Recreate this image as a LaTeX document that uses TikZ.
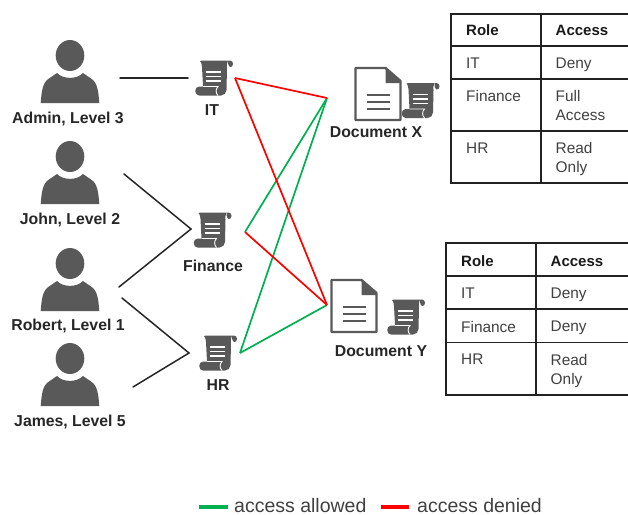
\documentclass[tikz,border=0pt]{standalone}
\usepackage{fontspec}
\setmainfont{Liberation Sans}
\definecolor{icon}{HTML}{595959}
\definecolor{allow}{HTML}{00B050}
\definecolor{deny}{HTML}{FF0000}
\definecolor{tline}{HTML}{222222}
\definecolor{ttext}{HTML}{404040}
\tikzset{
  person/.pic={
    \fill[icon] (0,0) ellipse (14.3 and 15.5);
    \fill[icon] (-29.3,47.5) .. controls (-28.5,38) and (-28,27) .. (-21,23)
      -- (-13,17.5) .. controls (-7,24) and (7,24) .. (13,17.5)
      -- (21,23) .. controls (28,27) and (28.5,38) .. (29.3,47.5) -- cycle;
  },
  scrollicon/.pic={
    \fill[icon] (-12,-17.5) -- (14,-17.5) .. controls (12.5,-15) and (13,-13) .. (13,-10)
      -- (12.5,12) .. controls (12.5,15) and (10,17.5) .. (7,17.5) -- (-15,17.5)
      .. controls (-20,17.5) and (-20,8.5) .. (-15,8.5) -- (-11,8.5)
      -- (-12,-11) .. controls (-12,-14) and (-13,-16) .. (-14,-17) -- cycle;
    \fill[icon] (14,-17.5) -- (16,-17.5) .. controls (18,-17.5) and (19,-16) .. (19,-14)
      .. controls (19,-12) and (17.5,-10.5) .. (16,-11) .. controls (14.5,-11) and (14,-14) .. (14,-17.5) -- cycle;
    \draw[white,line width=.9] (-11,8.5) -- (4,8.5) .. controls (1.5,11) and (1.5,15) .. (4,17.5);
    \draw[white,line width=1.7] (-8,-6) -- (7,-6) (-8,-1.5) -- (7,-1.5) (-8,3) -- (7,3);
  },
  docicon/.pic={
    \draw[icon,line width=2.4,line join=round] (0,0) -- (30,0) -- (45,13) -- (45,52) -- (0,52) -- cycle;
    \fill[icon] (30,0) -- (45,13) -- (45,15) -- (30,15) -- cycle;
    \draw[icon,line width=2] (11,27) -- (34,27) (11,34) -- (34,34) (11,41) -- (34,41);
  },
  conn/.style={line width=1.5,draw=black!85,line cap=round},
  okline/.style={line width=1.7,draw=allow},
  noline/.style={line width=1.7,draw=deny},
  lbl/.style={font=\fontsize{15.8}{18}\selectfont\bfseries,text=black!85,inner sep=0pt,anchor=base},
  th/.style={font=\fontsize{15}{17}\selectfont\bfseries,text=black!90,anchor=base west,inner sep=0pt},
  td/.style={font=\fontsize{15.4}{19}\selectfont,text=ttext,anchor=north west,inner sep=0pt,align=left},
  rule/.style={line width=1.6,draw=tline},
  leg/.style={font=\fontsize{19.5}{21}\selectfont,text=black!75,anchor=base west,inner sep=0pt},
  legline/.style={line width=3.5},
}
\begin{document}
\begin{tikzpicture}[x=1pt,y=-1pt]
\useasboundingbox (0,0) rectangle (628,514);
\clip (0,0) rectangle (628,514);
% people
\pic at (70,55.5) {person};
\pic at (70,156.5) {person};
\pic at (70,263.5) {person};
\pic at (70,358.5) {person};
\node[lbl] (admin) at (68,123.5) {Admin, Level 3};
\node[lbl] (john) at (70,224) {John, Level 2};
\node[lbl] (robert) at (68,330) {Robert, Level 1};
\node[lbl] (james) at (70,426.5) {James, Level 5};
% scrolls
\pic at (214,78) {scrollicon};
\pic at (212.5,230) {scrollicon};
\pic at (218,353) {scrollicon};
\pic at (420.5,100.5) {scrollicon};
\pic at (406,317) {scrollicon};
\node[lbl] (it) at (212,115) {IT};
\node[lbl] (finance) at (213,271.5) {Finance};
\node[lbl] (hr) at (218,390.5) {HR};
% documents
\pic at (355.5,68) {docicon};
\pic at (331.5,280) {docicon};
\node[lbl] (docx) at (376,137.5) {Document X};
\node[lbl] (docy) at (381,356.5) {Document Y};
% connector end points
\coordinate (pa) at (120,78);
\coordinate (sit) at (188,78);
\coordinate (pj) at (124,174);
\coordinate (sfin) at (191,229);
\coordinate (pr1) at (119,287);
\coordinate (pr2) at (122,298);
\coordinate (shr) at (189,353);
\coordinate (pja) at (133,387);
\coordinate (oit) at (235,78);
\coordinate (ofin) at (245,232);
\coordinate (ohr) at (240,353);
\coordinate (dx) at (327,98);
\coordinate (dy) at (327,305);
\draw[conn] (pa) -- (sit);
\draw[conn] (pj) -- (sfin) -- (pr1);
\draw[conn] (pr2) -- (shr) -- (pja);
\draw[okline] (ofin) -- (dx);
\draw[okline] (ohr) -- (dx);
\draw[okline] (ohr) -- (dy);
\draw[noline] (oit) -- (dx);
\draw[noline] (oit) -- (dy);
\draw[noline] (ofin) -- (dy);
% table X
\draw[rule] (628,14) -- (451,14) -- (451,183) -- (628,183);
\draw[rule] (541,14) -- (541,183);
\draw[rule] (451,46) -- (628,46) (451,79) -- (628,79) (451,131) -- (628,131);
\node[th] (xh1) at (466,35.5) {Role};
\node[th] (xh2) at (555.5,35.5) {Access};
\node[td] (x1a) at (466,57.5) {IT};
\node[td] (x1b) at (555.5,57.5) {Deny};
\node[td] (x2a) at (466,90.5) {Finance};
\node[td] (x2b) at (555.5,90.5) {Full\\Access};
\node[td] (x3a) at (466,142.5) {HR};
\node[td] (x3b) at (555.5,142.5) {Read\\Only};
% table Y
\draw[rule] (628,243) -- (446,243) -- (446,395) -- (628,395);
\draw[rule] (536,243) -- (536,395);
\draw[rule] (446,276) -- (628,276) (446,309) -- (628,309) (446,342.5) -- (628,342.5);
\node[th] (yh1) at (461,266) {Role};
\node[th] (yh2) at (550.5,266) {Access};
\node[td] (y1a) at (461,287.5) {IT};
\node[td] (y1b) at (550.5,287.5) {Deny};
\node[td] (y2a) at (461,321) {Finance};
\node[td] (y2b) at (550.5,321) {Deny};
\node[td] (y3a) at (461,354) {HR};
\node[td] (y3b) at (550.5,354) {Read\\Only};
% legend
\coordinate (g1) at (199,507);
\coordinate (g2) at (228,507);
\coordinate (r1) at (381,507);
\coordinate (r2) at (409,507);
\draw[legline,allow] (g1) -- (g2);
\draw[legline,deny] (r1) -- (r2);
\node[leg] (lga) at (234,512.5) {access allowed};
\node[leg] (lgd) at (417,512.5) {access denied};
\end{tikzpicture}
\end{document}
